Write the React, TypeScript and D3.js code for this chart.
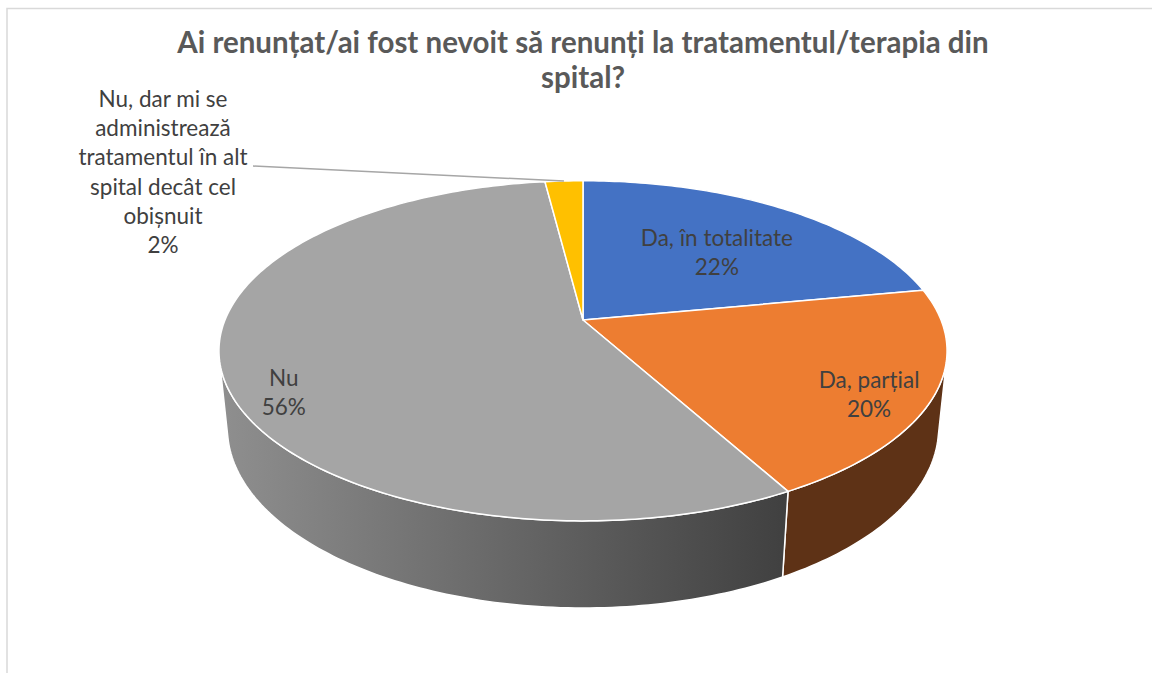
import React from 'react';
import * as d3 from 'd3';

// chart data
const categories = ['Da, în totalitate', 'Da, parțial', 'Nu', 'Nu, dar mi se administrează tratamentul în alt spital decât cel obișnuit'];
const values = [22, 20, 56, 2];
const percentLabels = ['22%', '20%', '56%', '2%'];
const titleLines = ['Ai renunțat/ai fost nevoit să renunți la tratamentul/terapia din', 'spital?'];
// the small slice gets an outside label split on several lines
const outsideLabelLines = ['Nu, dar mi se', 'administrează', 'tratamentul în alt', 'spital decât cel', 'obișnuit', '2%'];

const topColors = ['#4472C4', '#ED7D31', '#A5A5A5', '#FFC000'];
const sideColors = ['#2B4C86', '#5E3216', 'url(#graySide)', '#A07800'];

const W = 1152;
const H = 673;

// simple perspective camera for the 3D pie
const CX = 583;
const CY = 320;
const FOCAL = 1755;
const RADIUS = 0.204;
const THICK = 0.05;
const ELEV = (27.35 * Math.PI) / 180;

function project(a: number, t: number, z: number): [number, number] {
  const x = RADIUS * t * Math.sin(a);
  const y = RADIUS * t * Math.cos(a);
  const v = y * Math.sin(ELEV) + z * Math.cos(ELEV);
  const dist = 1 + y * Math.cos(ELEV) - z * Math.sin(ELEV);
  return [CX + (FOCAL * x) / dist, CY - (FOCAL * v) / dist];
}

function arcPoints(a0: number, a1: number, z: number) {
  const n = Math.max(2, Math.ceil(((a1 - a0) * 180) / Math.PI));
  return d3.range(n + 1).map((i) => project(a0 + ((a1 - a0) * i) / n, 1, z));
}

// label placement: angle shift (deg) from mid angle, and radius fraction
const labelShift = [
  [2.5, 0.603],
  [4.2, 0.848],
  [-9.6, 0.874],
];

export default function App() {
  const arcs = d3.pie<number>().sort(null).value((d) => d)(values);
  const line = d3.line();

  // side is visible where the outward normal faces the camera
  const aMin = Math.acos(-RADIUS / Math.cos(ELEV));
  const aMax = 2 * Math.PI - aMin;

  const sides = arcs
    .map((d, i) => {
      const a0 = Math.max(d.startAngle, aMin);
      const a1 = Math.min(d.endAngle, aMax);
      if (a1 <= a0) return null;
      const top = arcPoints(a0, a1, 0);
      const bottom = arcPoints(a0, a1, -THICK).reverse();
      return { i, path: line([...top, ...bottom]) + 'Z' };
    })
    .filter(Boolean) as { i: number; path: string }[];

  const tops = arcs.map((d, i) => ({
    i,
    path: line([project(0, 0, 0), ...arcPoints(d.startAngle, d.endAngle, 0)]) + 'Z',
  }));

  const grayArc = arcs[2];
  const gx0 = project(aMax, 1, 0)[0];
  const gx1 = project(Math.max(grayArc.startAngle, aMin), 1, 0)[0];

  const small = arcs[3];
  const leaderEnd = project((small.startAngle + small.endAngle) / 2, 1, 0);

  const labelFont = 'Lato, "Open Sans", sans-serif';

  return (
    <svg width={W} height={H} style={{ position: 'absolute', left: 0, top: 0, background: '#fff' }}>
      <defs>
        <linearGradient id="graySide" gradientUnits="userSpaceOnUse" x1={gx0} y1={0} x2={gx1} y2={0}>
          <stop offset="0" stopColor="#8F8F8F" />
          <stop offset="1" stopColor="#404040" />
        </linearGradient>
      </defs>
      <rect x={7} y={8.5} width={W + 20} height={H + 20} fill="#fff" stroke="#D9D9D9" strokeWidth={1.5} />

      <g>
        {titleLines.map((t, i) => (
          <text
            key={i}
            x={583}
            y={53 + i * 35}
            textAnchor="middle"
            fontFamily={labelFont}
            fontWeight="bold"
            fontSize={29.5}
            fill="#595959"
          >
            {t}
          </text>
        ))}
      </g>

      <g>
        {sides.map((s) => (
          <path key={s.i} d={s.path} fill={sideColors[s.i]} stroke="#fff" strokeWidth={1.5} strokeLinejoin="round" />
        ))}
        {tops.map((s) => (
          <path key={s.i} d={s.path} fill={topColors[s.i]} stroke="#fff" strokeWidth={1.5} strokeLinejoin="round" />
        ))}
      </g>

      <g fontFamily={labelFont} fontSize={22.5} fill="#404040" textAnchor="middle">
        {labelShift.map(([da, t], i) => {
          const mid = (arcs[i].startAngle + arcs[i].endAngle) / 2 + (da * Math.PI) / 180;
          const [x, y] = project(mid, t, 0);
          return (
            <g key={i}>
              <text x={x} y={y - 6}>{categories[i]}</text>
              <text x={x} y={y + 23}>{percentLabels[i]}</text>
            </g>
          );
        })}
        {outsideLabelLines.map((t, i) => (
          <text key={i} x={163} y={107 + i * 29.2}>
            {t}
          </text>
        ))}
      </g>

      <polyline
        points={[[253, 166], leaderEnd].map((p) => p.join(',')).join(' ')}
        fill="none"
        stroke="#A6A6A6"
        strokeWidth={1.5}
      />
    </svg>
  );
}
